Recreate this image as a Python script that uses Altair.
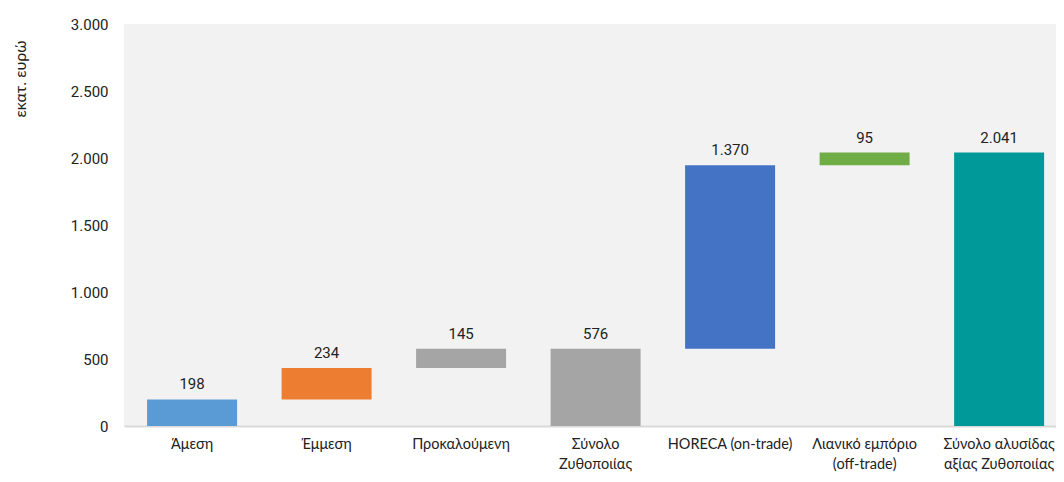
import altair as alt
import pandas as pd

categories = ["Άμεση", "Έμμεση", "Προκαλούμενη", "Σύνολο\nΖυθοποιίας",
              "HORECA (on-trade)", "Λιανικό εμπόριο\n(off-trade)", "Σύνολο αλυσίδας\nαξίας Ζυθοποιίας"]
values = [198, 234, 145, 576, 1370, 95, 2041]
is_total = [False, False, False, True, False, False, True]
colors = ["#5b9bd5", "#ed7d31", "#a5a5a5", "#a5a5a5", "#4472c4", "#70ad47", "#009999"]

rows = []
running = 0
for c, v, t in zip(categories, values, is_total):
    if t:
        start, end = 0, v
        running = v
    else:
        start, end = running, running + v
        running = end
    rows.append({"cat": c, "start": start, "end": end, "top": max(start, end),
                 "label": f"{v:,}".replace(",", ".")})
df = pd.DataFrame(rows)

num_font = "Roboto, sans-serif"
cat_font = "Lato, Open Sans, sans-serif"

x = alt.X("cat:N", sort=categories, title=None,
          scale=alt.Scale(paddingInner=0.331, paddingOuter=0.13, align=0.66),
          axis=alt.Axis(labelExpr="split(datum.label, '\\n')", labelAngle=0,
                        labelFont=cat_font, labelFontSize=14.5, labelColor="#222222",
                        labelPadding=11, labelLineHeight=20, ticks=False,
                        labelOverlap=False, labelBound=False,
                        domainColor="#d9d9d9", domainWidth=2))

bars = alt.Chart(df).mark_bar().encode(
    x=x,
    y=alt.Y("start:Q", scale=alt.Scale(domain=[0, 3000]), title="εκατ. ευρώ",
            axis=alt.Axis(values=[0, 500, 1000, 1500, 2000, 2500, 3000],
                          labelExpr="replace(format(datum.value, ','), ',', '.')",
                          labelFont=num_font, labelFontSize=15, labelColor="#222222",
                          labelPadding=16, ticks=False, domain=False, grid=False,
                          titleFont=cat_font, titleFontSize=16, titleFontWeight="normal",
                          titleColor="#222222", titleAngle=270, titleAlign="right",
                          titleBaseline="middle", titleX=-104, titleY=16)),
    y2="end:Q",
    color=alt.Color("cat:N", scale=alt.Scale(domain=categories, range=colors), legend=None),
)

labels = alt.Chart(df).mark_text(baseline="bottom", dy=-7, font=num_font,
                                 fontSize=15, color="#222222").encode(
    x=alt.X("cat:N", sort=categories),
    y=alt.Y("top:Q"),
    text="label:N",
)

chart = (bars + labels).properties(
    width=932, height=402,
    autosize=alt.AutoSizeParams(type="none"),
    padding={"left": 116, "top": 16, "right": 0, "bottom": 48},
).configure_view(fill="#f2f2f2", stroke=None)

chart.save("out.html", embed_options={"renderer": "svg", "actions": False})
